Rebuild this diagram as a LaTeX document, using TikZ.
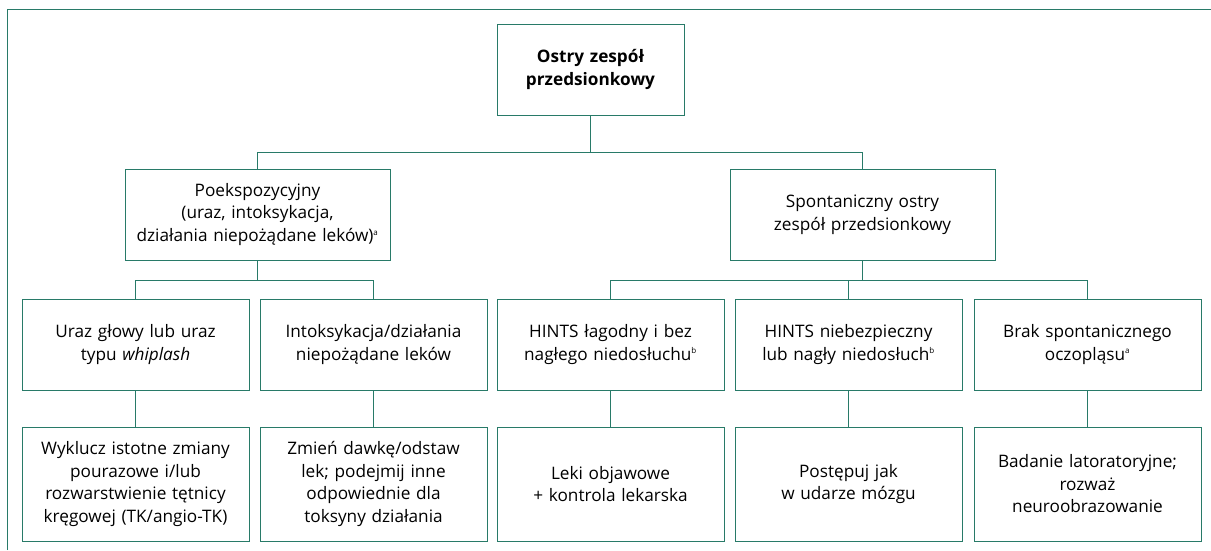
\documentclass[tikz,border=0pt]{standalone}
\usepackage{fontspec}
\setmainfont{Open Sans}
\definecolor{boxgreen}{RGB}{40,122,104}
\newcommand{\fnmark}[1]{\textsuperscript{\fontsize{8}{8}\selectfont #1}}

\begin{document}
\begin{tikzpicture}
  [x=1pt, y=-1pt,
   box/.style={draw=boxgreen, line width=1pt, align=center, inner xsep=6pt,
     font=\fontsize{17.2}{22.5}\selectfont},
   small/.style={box, text width=215pt, minimum height=91pt},
   wide/.style={box, text width=253pt, minimum height=91pt},
   result/.style={small, minimum height=114pt},
   link/.style={draw=boxgreen, line width=1pt}]
  \useasboundingbox (0,0) rectangle (1211,550);
  % Outer frame (runs off the page at right and bottom)
  \draw[link] (7,550) -- (7,9) -- (1211,9);

  % Top of the tree
  \node[box, text width=175pt, minimum height=91pt] (root) at (590.5,69.5)
    {\textbf{Ostry zespół}\\\textbf{przedsionkowy}};

  % Second level
  \node[wide] (poek) at (257.5,214.5)
    {Poekspozycyjny\\(uraz, intoksykacja,\\działania niepożądane leków)\fnmark{a}};
  \node[wide] (spon) at (862.5,214.5)
    {Spontaniczny ostry\\zespół przedsionkowy};

  % Third level
  \node[small] (uraz) at (135.5,344.5) {Uraz głowy lub uraz\\typu \textit{whiplash}\\[6pt]};
  \node[small] (intox) at (373.5,344.5) {Intoksykacja/działania\\niepożądane leków\\[6pt]};
  \node[small] (lagod) at (610.5,344.5)
    {HINTS łagodny i bez\\nagłego niedosłuchu\fnmark{b}\\[6pt]};
  \node[small] (niebez) at (848.5,344.5)
    {HINTS niebezpieczny\\lub nagły niedosłuch\fnmark{b}\\[10pt]};
  \node[small] (brak) at (1087.5,344.5)
    {Brak spontanicznego\\oczopląsu\fnmark{a}\\[4pt]};

  % Bottom level
  \node[result] (wyklucz) at (135.5,484)
    {Wyklucz istotne zmiany\\pourazowe i/lub\\rozwarstwienie tętnicy\\kręgowej (TK/angio-TK)};
  \node[result] (zmien) at (373.5,484)
    {Zmień dawkę/odstaw\\lek; podejmij inne\\odpowiednie dla\\toksyny działania};
  \node[result] (leki) at (610.5,484)
    {Leki objawowe\\+ kontrola lekarska};
  \node[result] (postep) at (848.5,484)
    {Postępuj jak\\w udarze mózgu};
  \node[result] (badanie) at (1087.5,484)
    {Badanie latoratoryjne;\\rozważ\\neuroobrazowanie};

  % Connectors
  \draw[link] (root.south) -- ++(0,37) coordinate (j0);
  \draw[link] (j0) -| (poek.north);
  \draw[link] (j0) -| (spon.north);
  \draw[link] (poek.south) -- ++(0,20) coordinate (j1);
  \draw[link] (j1) -| (uraz.north);
  \draw[link] (j1) -| (intox.north);
  \draw[link] (spon.south) -- ++(0,20) coordinate (j2);
  \foreach \b in {lagod, niebez, brak}
    \draw[link] (j2) -| (\b.north);
  \foreach \a/\b in {uraz/wyklucz, intox/zmien, lagod/leki, niebez/postep, brak/badanie}
    \draw[link] (\a) -- (\b);
\end{tikzpicture}
\end{document}
